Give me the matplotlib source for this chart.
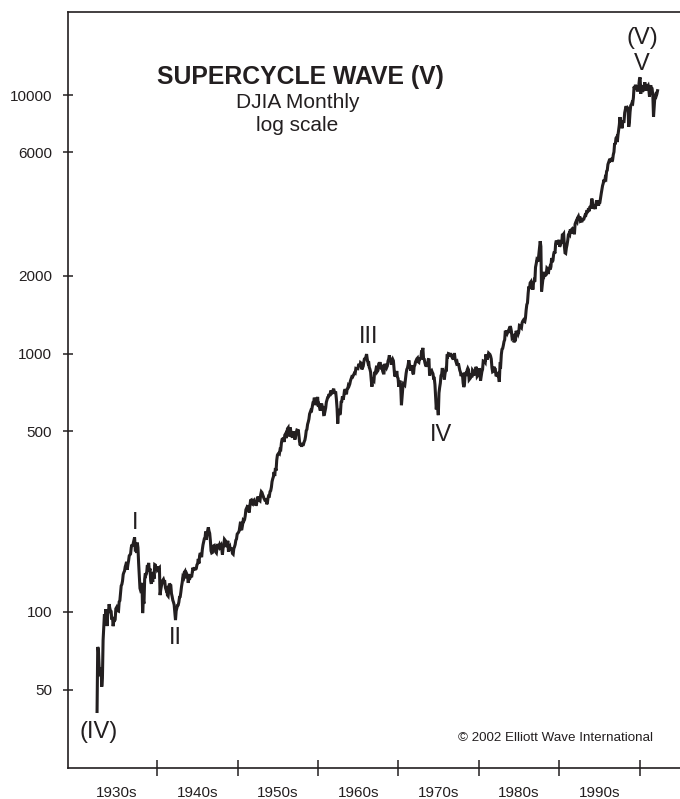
#!/usr/bin/env python3
"""Supercycle wave (V) - DJIA monthly on a log scale, Jul 1932 - Mar 2002."""

import numpy as np
import matplotlib.pyplot as plt
from matplotlib.ticker import FixedLocator, FixedFormatter, NullLocator

# DJIA month-end levels (extremes used at the key turns), starting Jul 1932
start_year, start_month = 1932, 7

djia_1930s = [
    41.2, 73.2, 71.6, 61.9, 56.4, 59.9,
    60.9, 51.4, 55.4, 77.7, 88.1, 98.1, 90.8, 102.4, 94.8, 88.2, 98.7, 99.9,
    107.2, 103.5, 101.0, 100.5, 93.4, 95.7, 88.1, 92.6, 92.6, 93.4, 102.9, 104.0,
    101.7, 101.1, 100.8, 109.5, 110.6, 118.2, 126.2, 127.9, 131.9, 139.7, 142.3, 144.1,
    149.5, 152.5, 156.3, 145.7, 152.6, 157.7, 164.9, 166.3, 167.8, 177.4, 182.3, 179.9,
    184.7, 190.3, 194.4, 174.3, 174.7, 169.3, 185.5, 177.4, 154.6, 138.8, 123.5, 121.0,
    121.9, 129.6, 99.0, 111.0, 107.7, 133.9, 141.2, 139.3, 141.5, 151.7, 149.8, 154.8,
    143.8, 147.3, 131.8, 128.5, 138.0, 130.6, 143.0, 134.4, 152.5, 151.9, 145.7, 150.2,
]
djia_1940s = [
    145.3, 146.5, 147.5, 148.4, 116.2, 121.9, 126.1, 129.5, 132.6, 133.8, 131.0, 131.1,
    124.1, 121.8, 122.7, 116.2, 115.3, 123.1, 128.8, 127.4, 126.8, 117.8, 114.7, 111.0,
    109.1, 106.6, 99.5, 93.0, 100.9, 103.3, 106.0, 106.3, 109.1, 114.1, 114.5, 119.4,
    125.4, 130.0, 136.6, 135.5, 142.1, 143.4, 136.6, 137.0, 140.1, 138.3, 129.6, 135.9,
    137.4, 136.3, 138.8, 136.2, 142.2, 148.4, 146.1, 147.2, 146.7, 146.5, 147.3, 152.3,
    153.8, 160.4, 154.1, 165.4, 169.1, 165.3, 163.0, 174.3, 181.7, 186.6, 192.0, 192.9,
    204.7, 190.1, 199.8, 206.8, 212.5, 205.6, 201.6, 189.2, 172.4, 169.2, 169.8, 177.2,
    180.4, 181.0, 177.2, 170.6, 169.3, 177.3, 183.2, 178.9, 177.5, 181.8, 179.4, 181.2,
    175.1, 166.8, 177.2, 180.9, 191.0, 189.5, 181.3, 181.7, 178.3, 188.6, 171.2, 177.3,
    179.1, 173.1, 177.1, 174.1, 168.4, 167.4, 175.9, 178.7, 182.5, 189.5, 191.6, 200.1,
]
djia_1950s = [
    201.8, 203.4, 206.1, 214.3, 223.4, 209.1, 209.4, 216.9, 226.4, 225.0, 227.6, 235.4,
    248.8, 252.1, 247.9, 259.1, 249.7, 242.6, 257.9, 270.3, 271.2, 262.4, 261.3, 269.2,
    270.7, 260.1, 269.5, 257.6, 262.9, 274.3, 279.6, 275.0, 270.6, 269.2, 283.7, 291.9,
    289.8, 284.3, 279.9, 274.8, 272.3, 268.3, 275.4, 261.2, 264.0, 276.0, 281.4, 280.9,
    292.4, 294.5, 303.5, 319.3, 327.5, 333.5, 347.9, 335.8, 360.5, 352.1, 386.8, 404.4,
    408.8, 411.9, 409.7, 425.7, 424.9, 451.4, 465.9, 468.2, 466.6, 454.9, 483.3, 488.4,
    470.7, 483.7, 511.8, 516.1, 478.1, 492.8, 517.8, 502.0, 475.3, 479.9, 472.8, 499.5,
    479.2, 464.6, 474.8, 494.4, 504.9, 503.3, 508.5, 484.4, 456.3, 441.0, 449.9, 435.7,
    450.0, 439.9, 446.8, 455.9, 462.7, 478.2, 502.9, 508.6, 532.1, 543.3, 557.5, 583.7,
    594.0, 603.5, 601.7, 623.8, 643.8, 643.6, 674.9, 664.4, 631.7, 646.6, 659.2, 679.4,
]
djia_1960s = [
    622.6, 630.1, 616.6, 601.7, 625.5, 640.6, 616.7, 626.0, 580.1, 580.4, 597.2, 615.9,
    648.2, 662.1, 676.6, 678.7, 696.7, 684.0, 705.4, 719.9, 701.2, 703.9, 721.6, 731.1,
    700.0, 708.1, 707.0, 665.3, 613.4, 535.8, 597.9, 609.2, 579.0, 589.8, 649.3, 652.1,
    682.9, 662.9, 682.5, 717.7, 727.0, 706.9, 695.4, 729.3, 732.8, 755.2, 750.5, 763.0,
    785.3, 800.1, 813.3, 810.8, 820.6, 831.5, 841.1, 838.5, 875.4, 873.1, 875.4, 874.1,
    902.9, 903.5, 889.1, 922.3, 918.0, 868.0, 881.7, 893.1, 930.6, 960.8, 946.7, 969.3,
    995.2, 951.9, 924.8, 933.7, 884.1, 870.1, 847.4, 788.4, 744.3, 807.1, 791.6, 785.7,
    849.9, 839.4, 866.0, 897.1, 852.6, 860.3, 904.2, 901.3, 926.7, 879.7, 875.8, 905.1,
    855.5, 840.5, 840.7, 912.2, 899.0, 897.8, 883.0, 896.0, 935.8, 952.4, 985.1, 943.8,
    946.1, 905.2, 935.5, 950.2, 937.6, 873.2, 815.5, 836.7, 813.1, 856.0, 812.3, 800.4,
]
djia_1970s = [
    744.1, 777.6, 785.6, 736.1, 631.2, 683.5, 734.1, 764.6, 760.7, 755.6, 794.1, 838.9,
    868.5, 878.8, 904.4, 941.8, 907.8, 891.1, 858.4, 898.1, 887.2, 839.0, 831.3, 890.2,
    902.2, 928.1, 940.7, 954.2, 960.7, 929.0, 924.7, 963.7, 953.3, 956.6, 1018.2, 1020.0,
    1051.7, 955.1, 951.0, 921.4, 901.4, 891.7, 926.4, 887.6, 947.1, 956.6, 822.3, 850.9,
    855.6, 860.5, 846.7, 836.8, 802.2, 802.4, 757.4, 678.6, 607.9, 665.5, 618.7, 577.6,
    703.7, 739.1, 768.2, 821.3, 832.3, 879.0, 831.5, 835.3, 793.9, 836.0, 860.7, 852.4,
    975.3, 972.6, 999.5, 996.9, 975.2, 1003.0, 984.6, 973.7, 990.2, 964.9, 947.2, 1004.7,
    954.4, 936.4, 919.1, 926.9, 898.7, 916.3, 890.1, 861.5, 847.1, 818.4, 829.7, 831.2,
    769.9, 742.1, 757.4, 837.3, 840.6, 819.0, 862.3, 876.8, 865.8, 792.5, 799.0, 805.0,
    839.2, 808.8, 862.2, 854.9, 822.3, 842.0, 846.4, 887.6, 878.6, 815.7, 822.4, 838.7,
]
djia_1980s = [
    875.9, 863.1, 785.8, 817.1, 850.9, 867.9, 935.3, 932.6, 932.4, 924.5, 993.3, 964.0,
    947.3, 974.6, 1003.9, 997.8, 991.8, 976.9, 952.3, 881.5, 850.0, 853.2, 889.0, 875.0,
    871.1, 824.4, 822.8, 848.4, 819.5, 811.9, 776.9, 901.3, 896.3, 991.7, 1039.3, 1046.5,
    1075.7, 1112.6, 1130.0, 1226.2, 1200.0, 1222.0, 1199.2, 1216.2, 1233.1, 1225.2, 1276.0, 1258.6,
    1220.6, 1154.6, 1164.9, 1170.8, 1104.9, 1132.4, 1115.3, 1224.4, 1206.7, 1207.4, 1188.9, 1211.6,
    1286.8, 1284.0, 1266.8, 1258.1, 1315.4, 1335.5, 1347.5, 1334.0, 1328.6, 1374.3, 1472.1, 1546.7,
    1571.0, 1709.1, 1818.6, 1784.0, 1876.7, 1892.7, 1775.3, 1898.3, 1767.6, 1877.8, 1914.2, 1896.0,
    2158.0, 2224.0, 2304.7, 2286.4, 2291.6, 2418.5, 2572.1, 2722.4, 2596.3, 1738.7, 1833.6, 1938.8,
    1958.2, 2071.6, 1988.1, 2032.3, 2031.1, 2141.7, 2128.7, 2031.7, 2112.9, 2148.6, 2114.5, 2168.6,
    2342.3, 2258.4, 2293.6, 2418.8, 2480.2, 2440.1, 2660.7, 2737.3, 2692.8, 2645.1, 2706.3, 2753.2,
]
djia_1990s = [
    2590.5, 2627.3, 2707.2, 2656.8, 2876.7, 2880.7, 2905.2, 2614.4, 2452.5, 2442.3, 2559.7, 2633.7,
    2736.4, 2882.2, 2913.9, 2887.9, 3027.5, 2906.8, 3024.8, 3043.6, 3016.8, 3069.1, 2894.7, 3168.8,
    3223.4, 3267.7, 3235.5, 3359.1, 3396.9, 3318.5, 3393.8, 3257.4, 3271.7, 3226.3, 3305.2, 3301.1,
    3310.0, 3370.8, 3435.1, 3427.6, 3527.4, 3516.1, 3539.5, 3651.3, 3555.1, 3680.6, 3684.0, 3754.1,
    3978.4, 3832.0, 3636.0, 3681.7, 3758.4, 3625.0, 3764.5, 3913.4, 3843.2, 3908.1, 3739.2, 3834.4,
    3843.9, 4011.1, 4157.7, 4321.3, 4465.1, 4556.1, 4708.5, 4610.6, 4789.1, 4755.5, 5074.5, 5117.1,
    5395.3, 5485.6, 5587.1, 5569.1, 5643.2, 5654.6, 5528.9, 5616.2, 5882.2, 6029.4, 6521.7, 6448.3,
    6813.1, 6877.7, 6583.5, 7009.0, 7331.0, 7672.8, 8222.6, 7622.4, 7945.3, 7442.1, 7823.1, 7908.3,
    7906.5, 8545.7, 8799.8, 9063.4, 8900.0, 8952.0, 8883.3, 7539.1, 7842.6, 8592.1, 9116.6, 9181.4,
    9358.8, 9306.6, 9786.2, 10789.0, 10559.7, 10970.8, 10655.2, 10829.3, 10337.0, 10729.9, 10877.8, 11497.1,
]
djia_2000s = [
    11723.0, 10128.3, 10921.9, 10733.9, 10522.3, 10447.9, 10522.0, 11215.1, 10650.9, 10971.1, 10414.5, 10788.0,
    10887.4, 10495.3, 9878.8, 10735.0, 10911.9, 10502.4, 10522.8, 9949.8, 8235.8, 9075.1, 9851.6, 10021.5,
    9920.0, 10106.1, 10403.9,
]

y_ticks = [50, 100, 500, 1000, 2000, 6000, 10000]
decade_bounds = [1940, 1950, 1960, 1970, 1980, 1990, 2000]
decade_mids = [1935, 1945, 1955, 1965, 1975, 1985, 1995]
decade_labels = ['1930s', '1940s', '1950s', '1960s', '1970s', '1980s', '1990s']

# wave labels: (text, year, level)
wave_labels = [
    ('(IV)', 1932.7, 34.2),
    ('I', 1937.25, 221),
    ('II', 1942.3, 79.3),
    ('III', 1966.26, 1156),
    ('IV', 1975.35, 484),
    ('V', 2000.3, 13180),
    ('(V)', 2000.3, 16600),
]

INK = '#231f20'
plt.rcParams['font.family'] = ['Liberation Sans', 'DejaVu Sans']


def main():
    values = np.array(djia_1930s + djia_1940s + djia_1950s + djia_1960s
                      + djia_1970s + djia_1980s + djia_1990s + djia_2000s)
    t = start_year + (start_month - 0.5 + np.arange(len(values))) / 12.0

    fig = plt.figure(figsize=(6.8, 7.99), dpi=100)
    ax = fig.add_axes([0.1, 0.0388, 0.9, 0.946])

    ax.plot(t, values, color=INK, linewidth=2.2, solid_joinstyle='miter')

    ax.set_yscale('log')
    ax.set_xlim(1928.93, 2005.0)
    ax.set_ylim(24.9, 20950)

    ax.yaxis.set_major_locator(FixedLocator(y_ticks))
    ax.yaxis.set_major_formatter(FixedFormatter([str(v) for v in y_ticks]))
    ax.yaxis.set_minor_locator(NullLocator())
    ax.tick_params(axis='y', which='major', direction='inout', length=7.6,
                   width=1.1, pad=7.6, labelsize=11, colors=INK)

    ax.xaxis.set_major_locator(FixedLocator(decade_bounds))
    ax.xaxis.set_major_formatter(FixedFormatter([''] * len(decade_bounds)))
    ax.xaxis.set_minor_locator(FixedLocator(decade_mids))
    ax.xaxis.set_minor_formatter(FixedFormatter(decade_labels))
    ax.tick_params(axis='x', which='major', direction='inout', length=11.5,
                   width=1.1, colors=INK)
    ax.tick_params(axis='x', which='minor', length=0, pad=13, labelsize=11,
                   colors=INK)

    for side in ['left', 'top', 'bottom']:
        ax.spines[side].set_linewidth(1.2)
        ax.spines[side].set_color(INK)
    ax.spines['right'].set_visible(False)

    ax.text(0.379, 0.914, 'SUPERCYCLE WAVE (V)', transform=ax.transAxes,
            ha='center', va='center', fontsize=17.8, fontweight='bold', color=INK)
    ax.text(0.376, 0.881, 'DJIA Monthly', transform=ax.transAxes,
            ha='center', va='center', fontsize=15, color=INK)
    ax.text(0.374, 0.850, 'log scale', transform=ax.transAxes,
            ha='center', va='center', fontsize=15, color=INK)
    ax.text(0.797, 0.040, '\u00a9 2002 Elliott Wave International',
            transform=ax.transAxes, ha='center', va='center',
            fontsize=9.6, color=INK)

    for label, year, level in wave_labels:
        ax.text(year, level, label, ha='center', va='center', fontsize=17,
                color=INK)

    fig.savefig('out.png', dpi=100)


if __name__ == '__main__':
    main()
